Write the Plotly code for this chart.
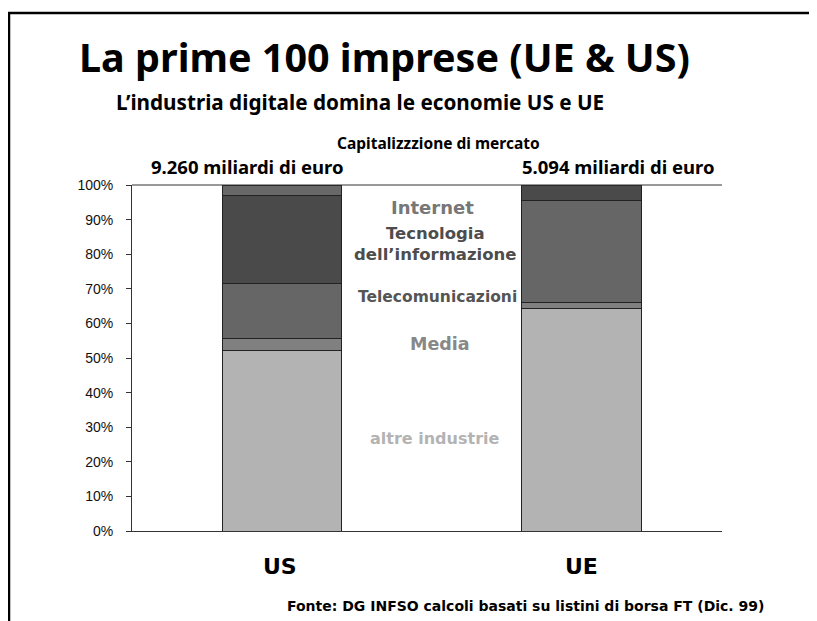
import plotly.graph_objects as go

categories = ["US", "UE"]
series_names = ["altre industrie", "Media", "Telecomunicazioni", "Tecnologia dell'informazione", "Internet"]
altre = [52.1, 64.2]
media = [3.4, 1.9]
telecom = [15.9, 29.3]
tecnologia = [25.7, 4.6]
internet = [2.9, 0.0]
totals = ["9.260 miliardi di euro", "5.094 miliardi di euro"]
yticks = [0, 10, 20, 30, 40, 50, 60, 70, 80, 90, 100]
ytick_text = [f"{v}%" for v in yticks]

colors = ["#b3b3b3", "#808080", "#666666", "#4a4a4a", "#686868"]
values = [altre, media, telecom, tecnologia, internet]

W, H = 817, 621
OFF = 8  # page body margin offset
L, R, T, B = 132 - OFF, 722 - OFF, 185 - OFF, 531 - OFF  # plot area in figure pixels

def px(x):
    return (x - OFF - L) / (R - L)

def py(y):
    return (B - (y - OFF)) / (B - T)

xpos = [0, 1]
fig = go.Figure()
for name, vals, col in zip(series_names, values, colors):
    fig.add_trace(go.Bar(
        x=xpos, y=vals, name=name, width=0.4,
        marker=dict(color=col, line=dict(color="#222222", width=1)),
        showlegend=False, hoverinfo="y+name",
    ))

fig.update_layout(
    barmode="stack",
    width=W, height=H,
    margin=dict(l=L, r=W - R, t=T, b=H - B, pad=0),
    paper_bgcolor="white", plot_bgcolor="white",
    font=dict(family="Liberation Sans, Arial, sans-serif", color="black"),
    xaxis=dict(range=[-0.5008, 1.469], showticklabels=False, ticks="",
               showgrid=False, zeroline=False, showline=True,
               linecolor="#333333", linewidth=1),
    yaxis=dict(range=[0, 100], tickvals=yticks, ticktext=ytick_text,
               ticks="outside", ticklen=5, tickcolor="#333333",
               showgrid=False, zeroline=False, showline=True,
               linecolor="#333333", linewidth=1, ticklabelstandoff=10,
               tickfont=dict(size=14, family="Liberation Sans, Arial, sans-serif", color="#111111")),
)

# Frame lines and top line of plot
fig.add_shape(type="line", xref="paper", yref="paper", x0=px(9), x1=px(9), y0=py(13), y1=py(640),
              line=dict(color="black", width=2.5))
fig.add_shape(type="line", xref="paper", yref="paper", x0=px(8), x1=px(830), y0=py(13), y1=py(13),
              line=dict(color="black", width=2.5))
fig.add_shape(type="line", xref="paper", yref="paper", x0=0, x1=1, y0=1, y1=1,
              line=dict(color="#333333", width=1))

NF = "Noto Sans, DejaVu Sans, sans-serif"
DF = "DejaVu Sans, Verdana, sans-serif"

def txt(t, x, y, size, color="black", family=NF):
    fig.add_annotation(text=f"<b>{t}</b>", xref="paper", yref="paper",
                       x=px(x), y=py(y), showarrow=False, xanchor="center", yanchor="middle",
                       font=dict(size=size, color=color, family=family))

txt("La prime 100 imprese (UE &amp; US)", 384, 57, 39.5)
txt("L’industria digitale domina le economie US e UE", 360, 102, 20.7)
txt("Capitalizzzione di mercato", 438, 143, 15.5)
txt(totals[0], 247, 166, 18.5)
txt(totals[1], 618, 166, 18.5)

# series labels
txt("Internet", 432, 207, 18, "#777777", DF)
txt("Tecnologia<br>dell’informazione", 435, 244, 16.5, "#4d4d4d", DF)
txt("Telecomunicazioni", 437, 297, 15.5, "#555555", DF)
txt("Media", 440, 344, 17.5, "#888888", DF)
txt("altre industrie", 435, 438, 16, "#b3b3b3", DF)

# category labels
txt(categories[0], 280, 566, 22, "black", DF)
txt(categories[1], 581, 566, 22, "black", DF)

txt("Fonte: DG INFSO calcoli basati su listini di borsa FT (Dic. 99)", 525, 606, 14, "black", DF)

fig.write_html("out.html")
